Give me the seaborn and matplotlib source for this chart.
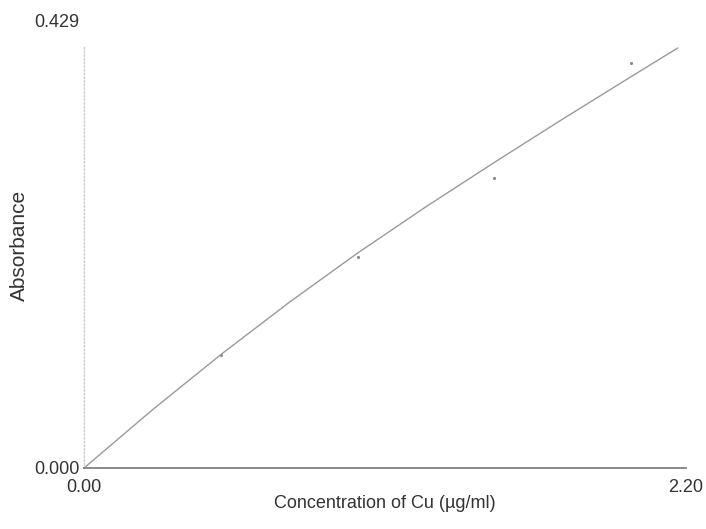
import pandas as pd
import seaborn as sns
import matplotlib.pyplot as plt

# measured standards
conc = [0.5, 1.0, 1.5, 2.0]
absorb = [0.115, 0.214, 0.294, 0.411]

# calibration curve as drawn
fit_conc = [0.0, 0.25, 0.5, 0.75, 1.0, 1.25, 1.5, 1.75, 2.0, 2.17]
fit_abs = [0.0, 0.059, 0.115, 0.168, 0.218, 0.265, 0.310, 0.354, 0.397, 0.426]

x_ticks = [0.0, 2.2]
x_labels = ["0.00", "2.20"]
y_top = 0.429

pts = pd.DataFrame({"Conc": conc, "Abs": absorb})
curve = pd.DataFrame({"Conc": fit_conc, "Abs": fit_abs})

sns.set_style("white")
plt.rcParams["font.family"] = ["Liberation Sans", "DejaVu Sans"]

fig = plt.figure(figsize=(7.06, 5.29), dpi=100)
ax = fig.add_axes([84 / 706, 61 / 529, 602 / 706, 423 / 529])

sns.lineplot(data=curve, x="Conc", y="Abs", color="#9a9a9a", linewidth=1.0, ax=ax)
sns.scatterplot(data=pts, x="Conc", y="Abs", color="#888888", s=5, linewidth=0, ax=ax)

ax.set_xlim(0, 2.2)
ax.set_ylim(0, y_top)

for s in ["top", "right"]:
    ax.spines[s].set_visible(False)
ax.spines["left"].set_color("#cccccc")
ax.spines["left"].set_linestyle(":")
ax.spines["left"].set_linewidth(1.0)
ax.spines["bottom"].set_color("#8a8a8a")
ax.spines["bottom"].set_linewidth(1.4)

ax.set_xticks(x_ticks)
ax.set_xticklabels(x_labels)
ax.set_yticks([0.0])
ax.set_yticklabels(["0.000"])
ax.tick_params(axis="x", length=0, pad=8, labelsize=13, labelcolor="#333333")
ax.tick_params(axis="y", length=0, pad=3, labelsize=13, labelcolor="#333333")

ax.annotate("0.429", xy=(0, 1), xycoords="axes fraction", xytext=(-3, 16.5),
            textcoords="offset points", ha="right", va="center",
            fontsize=13, color="#333333")

ax.set_xlabel("Concentration of Cu (µg/ml)", fontsize=13, color="#333333")
ax.set_ylabel("Absorbance", fontsize=15, color="#333333")
ax.xaxis.set_label_coords(0.5, -0.064)
ax.yaxis.set_label_coords(-0.091, 0.525)

fig.savefig("out.png", dpi=100)
